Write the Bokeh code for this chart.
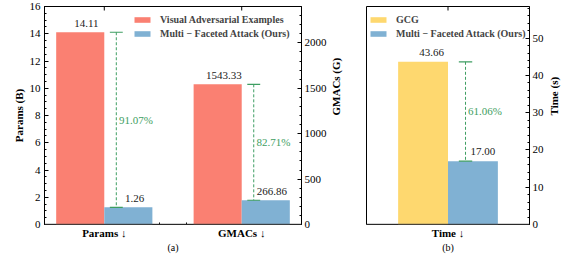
import math
from bokeh.plotting import figure
from bokeh.models import (Range1d, LinearAxis, FixedTicker, SingleIntervalTicker,
                          Legend, LegendItem, ColumnDataSource, Span)
from bokeh.layouts import row
from bokeh.embed import file_html
from bokeh.resources import INLINE
from bokeh.core.properties import value

# ---------------- data ----------------
metrics = ["Params ↓", "GMACs ↓"]
vae_values = [14.11, 1543.33]          # Visual Adversarial Examples
mfa_values = [1.26, 266.86]            # Multi-Faceted Attack (Ours)
time_metric = ["Time ↓"]
gcg_time = [43.66]
mfa_time = [17.00]
params_ticks_max = 16
gmacs_scale = 150                      # GMACs drawn on the Params scale (twin axis)
time_max = 58.5

RED = "#FA8072"
BLUE = "#80B1D3"
YELLOW = "#FED86F"
GREEN = "#3E9E62"
SERIF = "Liberation Serif"
W = 0.35


def style_common(p):
    p.xgrid.visible = False
    p.ygrid.visible = False
    p.outline_line_color = "black"
    p.outline_line_width = 1
    p.background_fill_color = "white"
    p.border_fill_color = "white"


def style_axis(ax, size="11px", bold=False):
    ax.major_tick_in = 4
    ax.major_tick_out = 0
    ax.minor_tick_in = 2
    ax.minor_tick_out = 0
    ax.major_tick_line_color = "black"
    ax.minor_tick_line_color = "black"
    ax.axis_line_color = "black"
    ax.major_label_text_font = SERIF
    ax.major_label_text_font_size = size
    ax.major_label_text_color = "black"
    if bold:
        ax.major_label_text_font_style = "bold"
    ax.axis_label_text_font = SERIF
    ax.axis_label_text_font_style = "bold"
    ax.axis_label_text_font_size = "11px"
    ax.axis_label_text_color = "black"


# ---------------- left panel (a) ----------------
idx = list(range(len(metrics)))
vae_plot = [vae_values[0], vae_values[1] / gmacs_scale]
mfa_plot = [mfa_values[0], mfa_values[1] / gmacs_scale]

p1 = figure(width=358, height=257, x_range=Range1d(-0.435, 1.435),
            y_range=Range1d(0, params_ticks_max), output_backend="svg",
            toolbar_location=None, min_border_left=44, min_border_right=57,
            min_border_top=6, min_border_bottom=33)
style_common(p1)
p1.extra_y_ranges = {"gmacs": Range1d(0, params_ticks_max * gmacs_scale)}

src1 = ColumnDataSource(dict(
    xv=[i - W / 2 for i in idx], xm=[i + W / 2 for i in idx],
    vae=vae_plot, mfa=mfa_plot,
    vlab=[f"{v:.2f}" for v in vae_values], mlab=[f"{v:.2f}" for v in mfa_values],
    xvl=[i - W / 2 + 0.045 for i in idx], xml=[i + W / 2 + 0.045 for i in idx],
    xd=[i + W / 4 for i in idx],
    xc0=[i + W / 4 - 0.047 for i in idx], xc1=[i + W / 4 + 0.047 for i in idx],
    mid=[(a + b) / 2 for a, b in zip(vae_plot, mfa_plot)],
    xp=[i + W / 4 + 0.02 for i in idx],
    pct=[f"{(a - b) / a * 100:.2f}%" for a, b in zip(vae_values, mfa_values)],
    tick=[i for i in idx], top=[params_ticks_max for _ in idx],
))

r_vae = p1.vbar(x="xv", top="vae", width=W, source=src1, fill_color=RED, line_color=None)
r_mfa = p1.vbar(x="xm", top="mfa", width=W, source=src1, fill_color=BLUE, line_color=None)
p1.segment(x0="xd", y0="vae", x1="xd", y1="mfa", source=src1, line_color=GREEN,
           line_width=1, line_dash="3 2")
p1.segment(x0="xc0", y0="vae", x1="xc1", y1="vae", source=src1, line_color=GREEN, line_width=1.2)
p1.segment(x0="xc0", y0="mfa", x1="xc1", y1="mfa", source=src1, line_color=GREEN, line_width=1.2)
p1.text(x="xvl", y="vae", text="vlab", source=src1, text_font=value(SERIF),
        text_font_size="11px", text_align="center", text_baseline="middle",
        y_offset=-9, text_color="#222222")
p1.text(x="xml", y="mfa", text="mlab", source=src1, text_font=value(SERIF),
        text_font_size="11px", text_align="center", text_baseline="middle",
        y_offset=-9, text_color="#222222")
p1.text(x="xp", y="mid", text="pct", source=src1, text_font=value(SERIF),
        text_font_size="11px", text_align="left", text_baseline="middle",
        text_color=GREEN)
# top-edge tick marks at the category positions (half clipped by the frame)
p1.scatter(x="tick", y="top", source=src1, marker="dash", angle=math.pi / 2,
           size=8, line_color="black", line_width=1)

xa = p1.xaxis[0]
xa.ticker = FixedTicker(ticks=idx, minor_ticks=[0.4, 0.6])
xa.major_label_overrides = {i: m for i, m in zip(idx, metrics)}
style_axis(xa, bold=True)
xa.major_tick_in = 0
xa.axis_line_color = None
xa.major_label_standoff = 2
xa.axis_label = "(a)"
xa.axis_label_text_font_style = "normal"
xa.axis_label_text_font_size = "10px"
xa.axis_label_standoff = 0

ya = p1.yaxis[0]
ya.ticker = SingleIntervalTicker(interval=2, num_minor_ticks=4)
style_axis(ya)
ya.major_label_standoff = 4
ya.axis_label = "Params (B)"
ya.axis_label_standoff = 2

ra = LinearAxis(y_range_name="gmacs", ticker=SingleIntervalTicker(interval=500, num_minor_ticks=5))
style_axis(ra)
ra.major_label_standoff = 3
ra.axis_label = "GMACs (G)"
ra.axis_label_standoff = 6
ra.axis_label_orientation = math.pi / 2
p1.add_layout(ra, "right")

p1.add_layout(Span(location=0, dimension="width", line_color="#555555",
                   line_width=1.5, level="overlay"))

leg1 = Legend(items=[LegendItem(label="Visual Adversarial Examples", renderers=[r_vae]),
                     LegendItem(label="Multi − Faceted Attack (Ours)", renderers=[r_mfa])],
              location=(88, 185), glyph_width=20, glyph_height=7, label_height=12,
              spacing=2, padding=0, margin=0, label_standoff=8,
              label_text_font=SERIF, label_text_font_style="bold",
              label_text_font_size="10px", border_line_color=None,
              background_fill_alpha=0)
p1.add_layout(leg1)

# ---------------- right panel (b) ----------------
tidx = list(range(len(time_metric)))
p2 = figure(width=210, height=257, x_range=Range1d(-0.572, 0.572),
            y_range=Range1d(0, time_max), output_backend="svg",
            toolbar_location=None, y_axis_location="right",
            min_border_left=8, min_border_right=32, min_border_top=6,
            min_border_bottom=33)
style_common(p2)

src2 = ColumnDataSource(dict(
    xg=[i - W / 2 for i in tidx], xm=[i + W / 2 for i in tidx],
    gcg=gcg_time, mfa=mfa_time,
    glab=[f"{v:.2f}" for v in gcg_time], mlab=[f"{v:.2f}" for v in mfa_time],
    xgl=[i - W / 2 + 0.06 for i in tidx], xml=[i + W / 2 + 0.07 for i in tidx],
    xd=[i + 0.123 for i in tidx],
    xc0=[i + 0.123 - 0.047 for i in tidx], xc1=[i + 0.123 + 0.047 for i in tidx],
    mid=[(a + b) / 2 for a, b in zip(gcg_time, mfa_time)],
    xp=[i + 0.123 + 0.017 for i in tidx],
    pct=[f"{(a - b) / a * 100:.2f}%" for a, b in zip(gcg_time, mfa_time)],
    tick=[i for i in tidx], top=[time_max for _ in tidx],
))
r_gcg = p2.vbar(x="xg", top="gcg", width=W, source=src2, fill_color=YELLOW, line_color=None)
r_mfa2 = p2.vbar(x="xm", top="mfa", width=W, source=src2, fill_color=BLUE, line_color=None)
p2.segment(x0="xd", y0="gcg", x1="xd", y1="mfa", source=src2, line_color=GREEN,
           line_width=1, line_dash="3 2")
p2.segment(x0="xc0", y0="gcg", x1="xc1", y1="gcg", source=src2, line_color=GREEN, line_width=1.2)
p2.segment(x0="xc0", y0="mfa", x1="xc1", y1="mfa", source=src2, line_color=GREEN, line_width=1.2)
p2.text(x="xgl", y="gcg", text="glab", source=src2, text_font=value(SERIF),
        text_font_size="11px", text_align="center", text_baseline="middle",
        y_offset=-9, text_color="#222222")
p2.text(x="xml", y="mfa", text="mlab", source=src2, text_font=value(SERIF),
        text_font_size="11px", text_align="center", text_baseline="middle",
        y_offset=-10, text_color="#222222")
p2.text(x="xp", y="mid", text="pct", source=src2, text_font=value(SERIF),
        text_font_size="11px", text_align="left", text_baseline="middle",
        text_color=GREEN)
p2.scatter(x="tick", y="top", source=src2, marker="dash", angle=math.pi / 2,
           size=8, line_color="black", line_width=1)

xb = p2.xaxis[0]
xb.ticker = FixedTicker(ticks=tidx, minor_ticks=[])
xb.major_label_overrides = {i: m for i, m in zip(tidx, time_metric)}
style_axis(xb, bold=True)
xb.major_tick_in = 0
xb.axis_line_color = None
xb.major_label_standoff = 2
xb.axis_label = "(b)"
xb.axis_label_text_font_style = "normal"
xb.axis_label_text_font_size = "10px"
xb.axis_label_standoff = 0

yb = p2.yaxis[0]
yb.ticker = SingleIntervalTicker(interval=10, num_minor_ticks=5)
style_axis(yb)
yb.major_label_standoff = 3
yb.axis_label = "Time (s)"
yb.axis_label_standoff = 7
yb.axis_label_orientation = math.pi / 2

p2.add_layout(Span(location=0, dimension="width", line_color="#555555",
                   line_width=1.5, level="overlay"))

leg2 = Legend(items=[LegendItem(label="GCG", renderers=[r_gcg]),
                     LegendItem(label="Multi − Faceted Attack (Ours)", renderers=[r_mfa2])],
              location=(2, 185), glyph_width=20, glyph_height=7, label_height=12,
              spacing=2, padding=0, margin=0, label_standoff=8,
              label_text_font=SERIF, label_text_font_style="bold",
              label_text_font_size="10px", border_line_color=None,
              background_fill_alpha=0)
p2.add_layout(leg2)

layout = row(p1, p2, spacing=0)
open("out.html", "w").write(file_html(layout, INLINE))
